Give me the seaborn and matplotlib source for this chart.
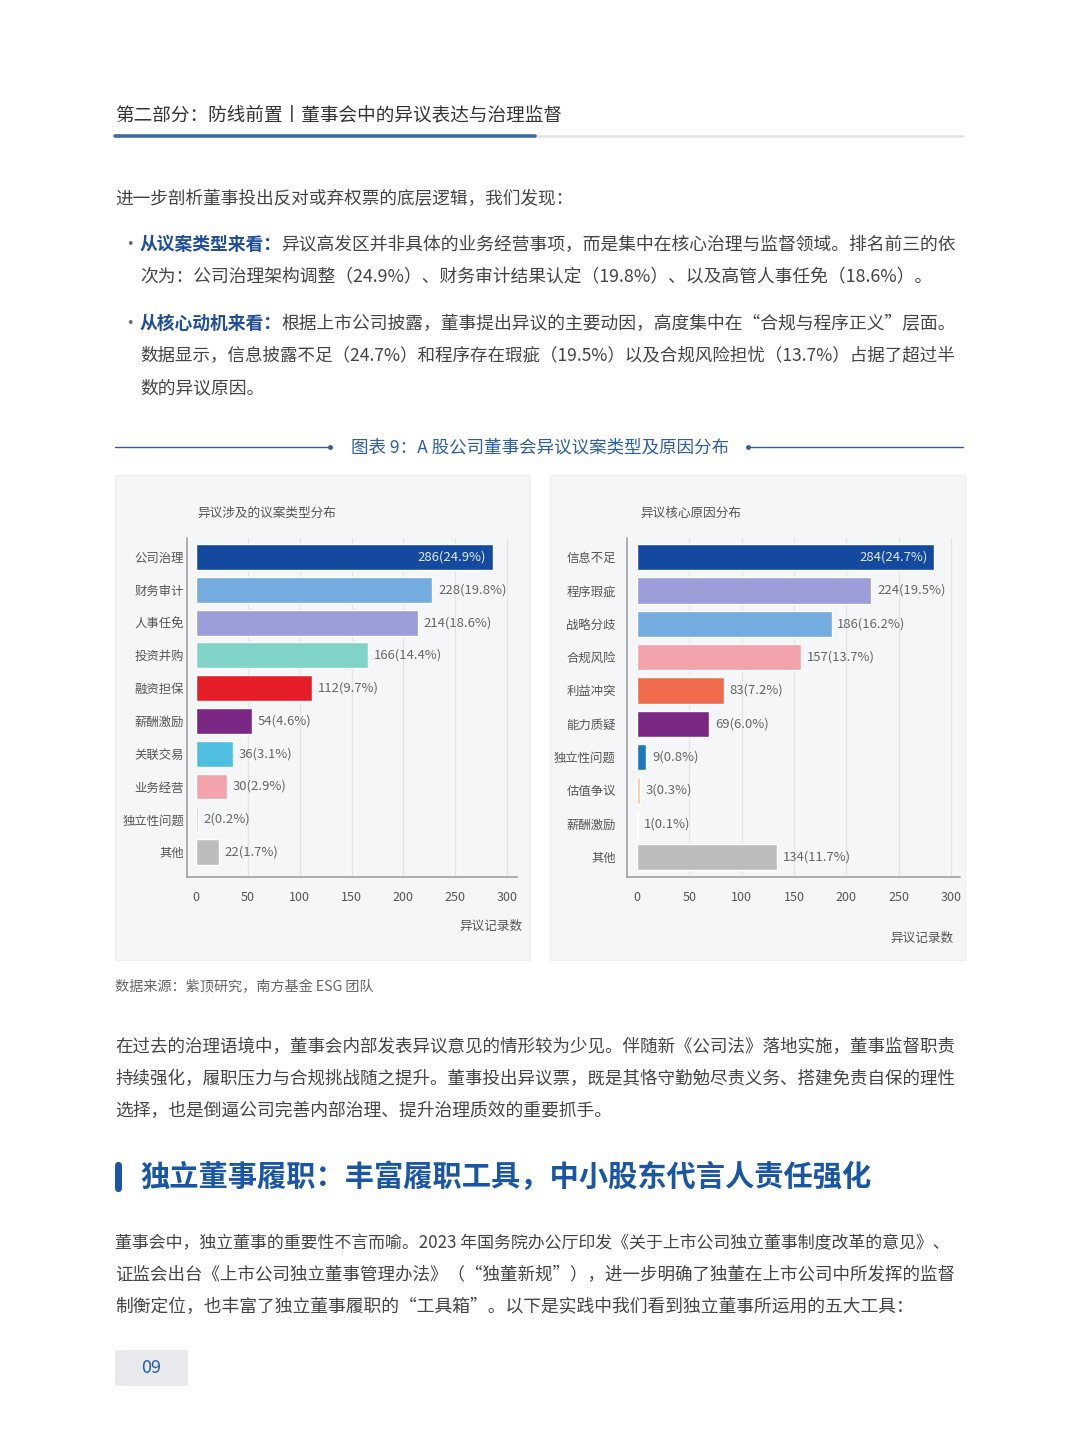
import matplotlib
matplotlib.use("Agg")
import matplotlib.pyplot as plt
import seaborn as sns
import pandas as pd
from matplotlib.patches import Rectangle, FancyBboxPatch
from matplotlib.lines import Line2D

# ---------------- data ----------------
type_cats = ["公司治理", "财务审计", "人事任免", "投资并购", "融资担保",
             "薪酬激励", "关联交易", "业务经营", "独立性问题", "其他"]
type_vals = [286, 228, 214, 166, 112, 54, 36, 30, 2, 22]
type_pcts = [24.9, 19.8, 18.6, 14.4, 9.7, 4.6, 3.1, 2.9, 0.2, 1.7]
type_colors = ["#1449a0", "#74ace0", "#9b9ed8", "#7fd3c7", "#e61e28",
               "#7a2883", "#4ebfe0", "#f2a2aa", "#efb58f", "#bcbcbc"]

reason_cats = ["信息不足", "程序瑕疵", "战略分歧", "合规风险", "利益冲突",
               "能力质疑", "独立性问题", "估值争议", "薪酬激励", "其他"]
reason_vals = [284, 224, 186, 157, 83, 69, 9, 3, 1, 134]
reason_pcts = [24.7, 19.5, 16.2, 13.7, 7.2, 6.0, 0.8, 0.3, 0.1, 11.7]
reason_colors = ["#1449a0", "#9b9ed8", "#74ace0", "#f2a2aa", "#f06a4c",
                 "#7a2883", "#1f78b8", "#f3c98c", "#c5cbd8", "#bcbcbc"]

x_ticks = [0, 50, 100, 150, 200, 250, 300]

# ---------------- setup ----------------
sns.set_theme(style="white")
plt.rcParams['font.family'] = ['Noto Sans CJK SC', 'DejaVu Sans']

W, H = 1080, 1455
fig = plt.figure(figsize=(W / 100, H / 100), dpi=100)
fig.patch.set_facecolor("white")


def fx(x):
    return x / W


def fy(y):
    return 1 - y / H


BODY = "#444444"
BLUE = "#1f4f9c"
FS = 12.6

renderer = fig.canvas.get_renderer()


def text(x, y, s, **kw):
    kw.setdefault("color", BODY)
    kw.setdefault("fontsize", FS)
    kw.setdefault("va", "center")
    kw.setdefault("ha", "left")
    return fig.text(fx(x), fy(y), s, **kw)


# header
text(115, 115, "第二部分：防线前置丨董事会中的异议表达与治理监督", fontsize=13.4, color="#333333")
fig.add_artist(Line2D([fx(535), fx(963)], [fy(136), fy(136)], color="#e2e4e8", lw=1.8))
fig.add_artist(Line2D([fx(115), fx(535)], [fy(136), fy(136)], color="#3f6ba8", lw=2.6,
                      solid_capstyle="round"))

# intro paragraph
text(115, 199, "进一步剖析董事投出反对或弃权票的底层逻辑，我们发现：", fontsize=12.7)


def bold_lead(x, y, lead, rest):
    t = text(x, y, lead, color=BLUE, fontweight="bold", fontsize=12.8)
    bb = t.get_window_extent(renderer=renderer)
    text(bb.x1 - 1, y, rest, fontsize=12.8)


text(121, 245, "·", color="#666666")
bold_lead(140, 245, "从议案类型来看：", "异议高发区并非具体的业务经营事项，而是集中在核心治理与监督领域。排名前三的依")
text(140, 277, "次为：公司治理架构调整（24.9%）、财务审计结果认定（19.8%）、以及高管人事任免（18.6%）。", fontsize=12.8)
text(121, 324, "·", color="#666666")
bold_lead(140, 324, "从核心动机来看：", "根据上市公司披露，董事提出异议的主要动因，高度集中在“合规与程序正义”层面。")
text(140, 356, "数据显示，信息披露不足（24.7%）和程序存在瑕疵（19.5%）以及合规风险担忧（13.7%）占据了超过半")
text(140, 388, "数的异议原因。", fontsize=12.8)

# chart title
text(540, 447, "图表 9：A 股公司董事会异议议案类型及原因分布", ha="center", color="#2b5fa8", fontsize=12.6)
for xa, xb, xd in [(115, 330, 330), (748, 963, 748)]:
    fig.add_artist(Line2D([fx(xa), fx(xb)], [fy(447), fy(447)], color="#355f99", lw=1.0))
    fig.add_artist(Line2D([fx(xd)], [fy(447)], marker="o", markersize=2.5, color="#355f99"))

# panel backgrounds
for x0, x1 in [(115, 530), (550, 965)]:
    fig.add_artist(Rectangle((fx(x0), fy(960)), fx(x1) - fx(x0), fy(475) - fy(960),
                             facecolor="#f5f6f7", edgecolor="#eeeeee", lw=0.8, zorder=0))


def draw_chart(rect, cats, vals, pcts, colors, xlim, ylim, subtitle, sub_xy, xlabel_xy, pad):
    ax = fig.add_axes(rect)
    df = pd.DataFrame({"cat": cats, "val": vals})
    sns.barplot(data=df, x="val", y="cat", hue="cat", palette=colors, legend=False,
                orient="h", width=0.79, saturation=1, ax=ax, zorder=3)
    ax.set_facecolor("none")
    ax.set_xlim(*xlim)
    ax.set_ylim(*ylim)
    ax.set_xticks(x_ticks)
    ax.set_xticklabels([str(t) for t in x_ticks])
    ax.set_xlabel("")
    ax.set_ylabel("")
    ax.tick_params(axis="x", length=0, pad=10, labelsize=9.0, labelcolor="#555555")
    ax.tick_params(axis="y", length=0, pad=pad, labelsize=8.9, labelcolor="#555555")
    for t in x_ticks[1:]:
        ax.axvline(t, color="#e3e3e3", lw=0.8, zorder=1)
    for s in ["top", "right"]:
        ax.spines[s].set_visible(False)
    for s in ["left", "bottom"]:
        ax.spines[s].set_color("#9a9a9a")
        ax.spines[s].set_linewidth(1.1)
    for i, (v, p) in enumerate(zip(vals, pcts)):
        lab = f"{v}({p:.1f}%)"
        if i == 0:
            ax.annotate(lab, (v, i), xytext=(-5, 0), textcoords="offset points",
                        ha="right", va="center", fontsize=9.4, color="#e4ecff", zorder=5)
        else:
            ax.annotate(lab, (v, i), xytext=(4, 0), textcoords="offset points",
                        ha="left", va="center", fontsize=9.4, color="#666666", zorder=5)
    text(sub_xy[0], sub_xy[1], subtitle, fontsize=9.1, color="#555555")
    text(xlabel_xy[0], xlabel_xy[1], "异议记录数", fontsize=9.1, color="#555555", ha="right")
    return ax


# left chart: axis x 187..517, y 538..877
draw_chart([fx(187), fy(877), fx(517) - fx(187), fy(538) - fy(877)],
           type_cats, type_vals, type_pcts, type_colors,
           xlim=(-8.7, 309.6), ylim=(9.76, -0.58),
           subtitle="异议涉及的议案类型分布", sub_xy=(197, 513),
           xlabel_xy=(522, 926), pad=2)

# right chart: axis x 627..960, y 538..877
draw_chart([fx(627), fy(877), fx(960) - fx(627), fy(538) - fy(877)],
           reason_cats, reason_vals, reason_pcts, reason_colors,
           xlim=(-9.6, 308.6), ylim=(9.6, -0.57),
           subtitle="异议核心原因分布", sub_xy=(640, 513),
           xlabel_xy=(953, 938), pad=8)

# source
text(115, 987, "数据来源：紫顶研究，南方基金 ESG 团队", fontsize=10.2, color="#666666")

# paragraph 2
text(115, 1047, "在过去的治理语境中，董事会内部发表异议意见的情形较为少见。伴随新《公司法》落地实施，董事监督职责")
text(115, 1079, "持续强化，履职压力与合规挑战随之提升。董事投出异议票，既是其恪守勤勉尽责义务、搭建免责自保的理性")
text(115, 1111, "选择，也是倒逼公司完善内部治理、提升治理质效的重要抓手。", fontsize=12.8)

# section heading
fig.add_artist(FancyBboxPatch((fx(115), fy(1192)), fx(122) - fx(115), fy(1162) - fy(1192),
                              boxstyle="round,pad=0,rounding_size=0.003",
                              facecolor="#1a56a6", edgecolor="none"))
text(140, 1177, "独立董事履职：丰富履职工具，中小股东代言人责任强化",
     fontsize=21.1, fontweight="bold", color="#1a56a6")

# paragraph 3
text(115, 1243, "董事会中，独立董事的重要性不言而喻。2023 年国务院办公厅印发《关于上市公司独立董事制度改革的意见》、",
     fontsize=12.2)
text(115, 1275, "证监会出台《上市公司独立董事管理办法》（“独董新规”），进一步明确了独董在上市公司中所发挥的监督")
text(115, 1307, "制衡定位，也丰富了独立董事履职的“工具箱”。以下是实践中我们看到独立董事所运用的五大工具：",
     fontsize=12.8)

# page number
fig.add_artist(Rectangle((fx(115), fy(1386)), fx(188) - fx(115), fy(1350) - fy(1386),
                         facecolor="#e7e9ed", edgecolor="none"))
text(151, 1368, "09", ha="center", fontsize=13, color="#2b5ba8")

fig.savefig("out.png", dpi=100, facecolor="white")
